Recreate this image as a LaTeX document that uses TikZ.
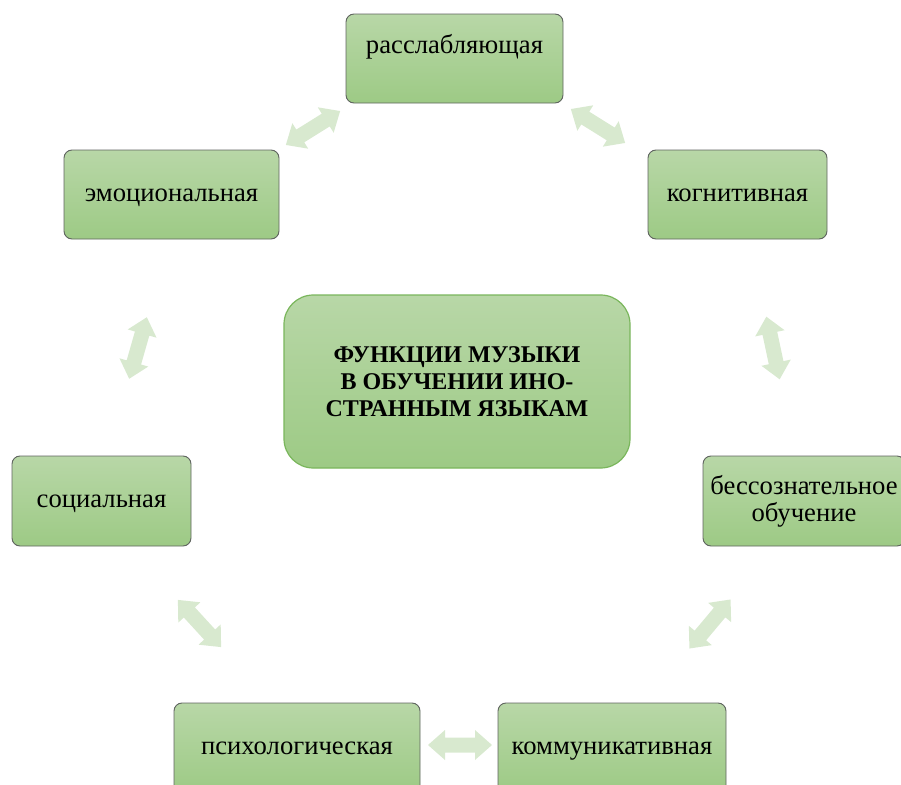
\documentclass[tikz,border=0pt]{standalone}
\usepackage{fontspec}
\setmainfont{Liberation Serif}
\definecolor{boxtop}{RGB}{184,215,167}
\definecolor{boxbot}{RGB}{157,202,133}
\definecolor{centerline}{RGB}{122,182,92}
\definecolor{boxline}{RGB}{95,100,95}
\definecolor{arrowc}{RGB}{216,233,207}
\newcommand{\dblarr}[3]{\fill[arr, shift={(#1,#2)}, rotate=#3] (-32,0) -- (-15,-15) -- (-15,-7.5) -- (15,-7.5) -- (15,-15) -- (32,0) -- (15,15) -- (15,7.5) -- (-15,7.5) -- (-15,15) -- cycle;}
\begin{document}
\begin{tikzpicture}[x=0.75pt,y=-0.75pt]
\tikzset{
 fbox/.style={draw=boxline, line width=0.7pt, rounded corners=6pt, top color=boxtop, bottom color=boxbot, font=\fontsize{20}{20.25}\selectfont, align=center, inner sep=0pt, text height=14pt, text depth=4pt},
 cbox/.style={draw=centerline, line width=0.9pt, rounded corners=22pt, top color=boxtop, bottom color=boxbot, font=\fontsize{18}{20.25}\selectfont\bfseries, align=center, inner sep=0pt},
 arr/.style={fill=arrowc, draw=none}
}
\useasboundingbox (0,0) rectangle (901,785);
\node[fbox, minimum width=217*0.75pt, minimum height=89*0.75pt] (rel) at (454.5,58.5) {\raisebox{8.6pt}[0pt][0pt]{расслабляющая}};
\node[fbox, minimum width=179*0.75pt, minimum height=89*0.75pt] (cog) at (737.5,194.5) {когнитивная};
\node[fbox, minimum width=215*0.75pt, minimum height=89*0.75pt] (emo) at (171.5,194.5) {эмоциональная};
\node[cbox, minimum width=346*0.75pt, minimum height=173*0.75pt] (cen) at (457,381.5) {ФУНКЦИИ МУЗЫКИ\\В ОБУЧЕНИИ ИНО-\\СТРАННЫМ ЯЗЫКАМ};
\node[fbox, minimum width=179*0.75pt, minimum height=90*0.75pt] (soc) at (101.5,501) {социальная};
\node[fbox, minimum width=202*0.75pt, minimum height=90*0.75pt, text height=34.25pt] (bess) at (804,501) {бессознательное\\обучение};
\node[fbox, minimum width=246*0.75pt, minimum height=90*0.75pt] (psy) at (297,748) {психологическая};
\node[fbox, minimum width=228*0.75pt, minimum height=90*0.75pt] (com) at (612,748) {коммуникативная};
\dblarr{313}{128}{32}
\dblarr{598}{126}{-32}
\dblarr{773}{348}{-78}
\dblarr{138}{348}{74}
\dblarr{199.5}{623.5}{-47.5}
\dblarr{710}{624}{50}
\dblarr{460}{745}{0}
\end{tikzpicture}
\end{document}
